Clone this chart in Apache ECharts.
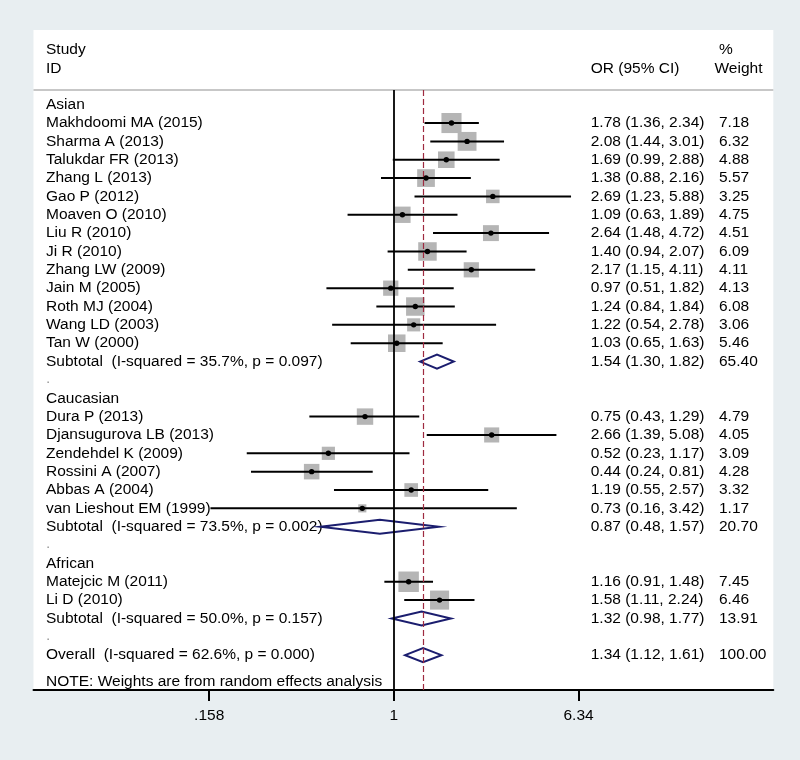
<!DOCTYPE html>
<html><head><meta charset="utf-8">
<script src="https://cdn.jsdelivr.net/npm/echarts@6/dist/echarts.min.js"></script>
<style>html,body{margin:0;padding:0;background:#e8eef1}#c{width:800px;height:760px}</style>
</head><body><div id="c"></div>
<script>
// ---------- data ----------
const groupNames = ['Asian', 'Caucasian', 'African'];
const studyNames = [
  'Makhdoomi MA (2015)', 'Sharma A (2013)', 'Talukdar FR (2013)', 'Zhang L (2013)', 'Gao P (2012)',
  'Moaven O (2010)', 'Liu R (2010)', 'Ji R (2010)', 'Zhang LW (2009)', 'Jain M (2005)',
  'Roth MJ (2004)', 'Wang LD (2003)', 'Tan W (2000)',
  'Dura P (2013)', 'Djansugurova LB (2013)', 'Zendehdel K (2009)', 'Rossini A (2007)', 'Abbas A (2004)', 'van Lieshout EM (1999)',
  'Matejcic M (2011)', 'Li D (2010)'
];
const studyGroup = [0,0,0,0,0,0,0,0,0,0,0,0,0, 1,1,1,1,1,1, 2,2];
const studyOR   = [1.78, 2.08, 1.69, 1.38, 2.69, 1.09, 2.64, 1.40, 2.17, 0.97, 1.24, 1.22, 1.03, 0.75, 2.66, 0.52, 0.44, 1.19, 0.73, 1.16, 1.58];
const studyLow  = [1.36, 1.44, 0.99, 0.88, 1.23, 0.63, 1.48, 0.94, 1.15, 0.51, 0.84, 0.54, 0.65, 0.43, 1.39, 0.23, 0.24, 0.55, 0.16, 0.91, 1.11];
const studyHigh = [2.34, 3.01, 2.88, 2.16, 5.88, 1.89, 4.72, 2.07, 4.11, 1.82, 1.84, 2.78, 1.63, 1.29, 5.08, 1.17, 0.81, 2.57, 3.42, 1.48, 2.24];
const studyWeight = [7.18, 6.32, 4.88, 5.57, 3.25, 4.75, 4.51, 6.09, 4.11, 4.13, 6.08, 3.06, 5.46, 4.79, 4.05, 3.09, 4.28, 3.32, 1.17, 7.45, 6.46];
const subtotalLabels = ['Subtotal  (I-squared = 35.7%, p = 0.097)', 'Subtotal  (I-squared = 73.5%, p = 0.002)', 'Subtotal  (I-squared = 50.0%, p = 0.157)'];
const subtotalOR   = [1.54, 0.87, 1.32];
const subtotalLow  = [1.30, 0.48, 0.98];
const subtotalHigh = [1.82, 1.57, 1.77];
const subtotalWeight = [65.40, 20.70, 13.91];
const overallLabel = 'Overall  (I-squared = 62.6%, p = 0.000)';
const overallOR = 1.34, overallLow = 1.12, overallHigh = 1.61, overallWeight = 100.00;
const tickValues = [0.158, 1, 6.34];
const tickLabels = ['.158', '1', '6.34'];
const noteText = 'NOTE: Weights are from random effects analysis';

// ---------- build rows ----------
const rows = [];
groupNames.forEach((g, gi) => {
  rows.push({ kind: 'header', label: g });
  studyNames.forEach((n, i) => {
    if (studyGroup[i] === gi) rows.push({ kind: 'study', label: n, or: studyOR[i], lo: studyLow[i], hi: studyHigh[i], w: studyWeight[i] });
  });
  rows.push({ kind: 'sub', label: subtotalLabels[gi], or: subtotalOR[gi], lo: subtotalLow[gi], hi: subtotalHigh[gi], w: subtotalWeight[gi] });
  rows.push({ kind: 'dot', label: '.' });
});
rows.push({ kind: 'sub', label: overallLabel, or: overallOR, lo: overallLow, hi: overallHigh, w: overallWeight });

const markData = [];
rows.forEach((r, i) => {
  if (r.kind === 'study' || r.kind === 'sub')
    markData.push([i, Math.log(r.lo), Math.log(r.hi), Math.log(r.or), r.w, r.kind === 'study' ? 0 : 1]);
});
const labelData = rows.map((r, i) => [0, i]);

const FONT = '15.5px "Liberation Sans", Arial, sans-serif';
const TXT = '#000';
const fmt = v => v.toFixed(2);

const chart = echarts.init(document.getElementById('c'), null, { renderer: 'canvas' });
chart.setOption({
  backgroundColor: '#e8eef1',
  animation: false,
  grid: { left: 33.5, right: 26.7, top: 90, bottom: 70 },
  xAxis: {
    type: 'value', min: -3.601, max: 3.793,
    splitLine: { show: false },
    axisLine: { show: true, onZero: false, lineStyle: { color: '#000', width: 2 } },
    axisTick: { show: true, length: 11, lineStyle: { color: '#000', width: 2 }, customValues: tickValues.map(Math.log) },
    axisLabel: {
      customValues: tickValues.map(Math.log), margin: 18, color: TXT,
      fontFamily: '"Liberation Sans", Arial, sans-serif', fontSize: 15.5,
      formatter: v => {
        let best = 0;
        tickValues.forEach((t, i) => { if (Math.abs(Math.log(t) - v) < Math.abs(Math.log(tickValues[best]) - v)) best = i; });
        return tickLabels[best];
      }
    }
  },
  yAxis: { type: 'value', inverse: true, min: -0.8, max: 31.9, show: false },
  graphic: { elements: [
    { type: 'rect', z: -10, silent: true, shape: { x: 33.5, y: 30, width: 739.8, height: 660 }, style: { fill: '#fff' } },
    { type: 'line', z: 1, shape: { x1: 33.5, y1: 90, x2: 773.3, y2: 90 }, style: { stroke: '#b4b4b4', lineWidth: 1.5 } },
    { type: 'text', x: 46, y: 50, style: { text: 'Study', font: FONT, fill: TXT, verticalAlign: 'middle' } },
    { type: 'text', x: 46, y: 68.3, style: { text: 'ID', font: FONT, fill: TXT, verticalAlign: 'middle' } },
    { type: 'text', x: 590.7, y: 68.3, style: { text: 'OR (95% CI)', font: FONT, fill: TXT, verticalAlign: 'middle' } },
    { type: 'text', x: 719, y: 50, style: { text: '%', font: FONT, fill: TXT, verticalAlign: 'middle' } },
    { type: 'text', x: 714.5, y: 68.3, style: { text: 'Weight', font: FONT, fill: TXT, verticalAlign: 'middle' } },
    { type: 'text', x: 46, y: 682, style: { text: noteText, font: FONT, fill: TXT, verticalAlign: 'middle' } }
  ]},
  series: [
    {
      type: 'custom', name: 'marks', data: markData, z: 3,
      renderItem: (params, api) => {
        const row = api.value(0), lo = api.value(1), hi = api.value(2), est = api.value(3), w = api.value(4), kind = api.value(5);
        const pLo = api.coord([lo, row]), pHi = api.coord([hi, row]), pE = api.coord([est, row]);
        if (kind === 0) {
          const s = 7.5 * Math.sqrt(w);
          return { type: 'group', children: [
            { type: 'rect', shape: { x: pE[0] - s / 2, y: pE[1] - s / 2, width: s, height: s }, style: { fill: '#b5b5b5' } },
            { type: 'line', shape: { x1: pLo[0], y1: pLo[1], x2: pHi[0], y2: pHi[1] }, style: { stroke: '#000', lineWidth: 2 } },
            { type: 'circle', shape: { cx: pE[0], cy: pE[1], r: 2.7 }, style: { fill: '#000' } }
          ]};
        }
        return { type: 'polygon', shape: { points: [[pLo[0], pLo[1]], [pE[0], pE[1] - 7], [pHi[0], pHi[1]], [pE[0], pE[1] + 7]] },
          style: { fill: 'none', stroke: '#1b1d6e', lineWidth: 2 } };
      },
      markLine: {
        silent: true, symbol: 'none', label: { show: false },
        data: [
          { xAxis: 0, lineStyle: { color: '#000', width: 1.8, type: 'solid' } },
          { xAxis: Math.log(overallOR), lineStyle: { color: '#9e2a40', width: 1.2, type: [6, 3] } }
        ]
      }
    },
    {
      type: 'custom', name: 'labels', data: labelData, z: 2,
      renderItem: (params, api) => {
        const r = rows[params.dataIndex];
        const y = api.coord([0, api.value(1)])[1];
        const ch = [{ type: 'text', x: 46, y: r.kind === 'dot' ? y - 1 : y, style: { text: r.label, font: FONT, fill: r.kind === 'dot' ? '#999' : TXT, verticalAlign: 'middle' } }];
        if (r.kind === 'study' || r.kind === 'sub') {
          ch.push({ type: 'text', x: 590.7, y: y, style: { text: fmt(r.or) + ' (' + fmt(r.lo) + ', ' + fmt(r.hi) + ')', font: FONT, fill: TXT, verticalAlign: 'middle' } });
          ch.push({ type: 'text', x: 719, y: y, style: { text: fmt(r.w), font: FONT, fill: TXT, verticalAlign: 'middle' } });
        }
        return { type: 'group', children: ch };
      }
    }
  ]
});
</script>
</body></html>
